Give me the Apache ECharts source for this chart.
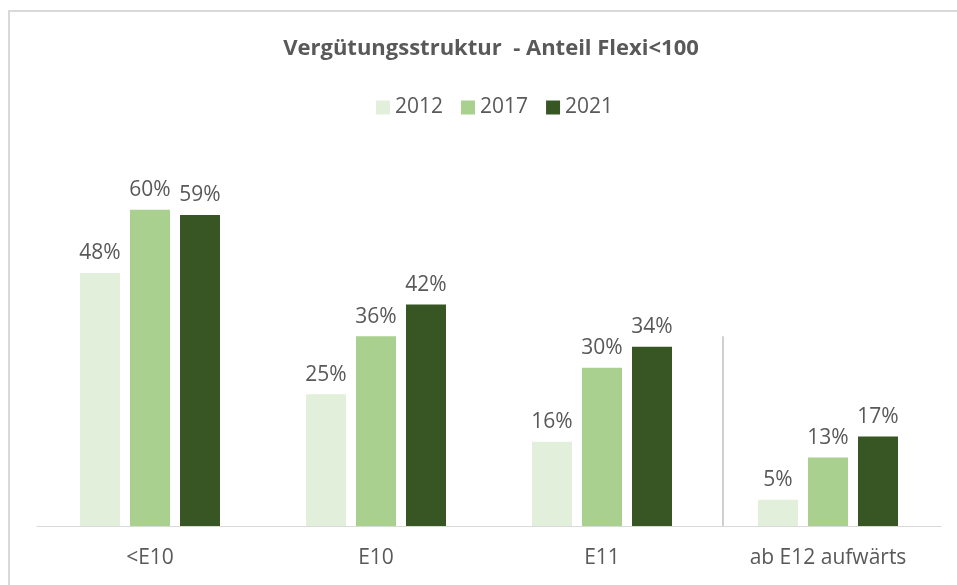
<!DOCTYPE html>
<html>
<head>
<meta charset="utf-8">
<script src="https://cdn.jsdelivr.net/npm/echarts@6/dist/echarts.min.js"></script>
<style>
  html, body { margin: 0; padding: 0; background: #fff; }
  #chart { width: 957px; height: 585px; }
</style>
</head>
<body>
<div id="chart"></div>
<script>
// Daten
const categories = ['<E10', 'E10', 'E11', 'ab E12 aufwärts']
const years = ['2012', '2017', '2021']
const values2012 = [48, 25, 16, 5]
const values2017 = [60, 36, 30, 13]
const values2021 = [59, 42, 34, 17]
const colors = ['#e2efda', '#a9d08e', '#375623']

const font = '"Open Sans", "Liberation Sans", sans-serif'
const textGray = '#595959'

const chart = echarts.init(document.getElementById('chart'))

const makeSeries = (name, data, color) => ({
  name,
  type: 'bar',
  data,
  barWidth: 40,
  barGap: '25%',
  itemStyle: { color },
  label: {
    show: true,
    position: 'top',
    distance: 9,
    formatter: '{c}%',
    color: textGray,
    fontSize: 21,
    fontFamily: font
  }
})

chart.setOption({
  animation: false,
  title: {
    text: 'Vergütungsstruktur  - Anteil Flexi<100',
    left: 486,
    textAlign: 'center',
    top: 33,
    textStyle: { color: textGray, fontSize: 22, fontWeight: 'bold', fontFamily: font }
  },
  legend: {
    data: years,
    top: 92,
    left: 371,
    itemWidth: 14,
    itemHeight: 14,
    itemGap: 18,
    icon: 'rect',
    textStyle: { color: textGray, fontSize: 21, fontFamily: font }
  },
  grid: { left: 37, right: 16, top: 157, bottom: 59 },
  xAxis: {
    type: 'category',
    data: categories,
    axisLine: { lineStyle: { color: '#d9d9d9', width: 1 } },
    axisTick: { show: false },
    axisLabel: { color: textGray, fontSize: 21, fontFamily: font, margin: 22 }
  },
  yAxis: {
    type: 'value',
    min: 0,
    max: 70,
    show: false,
    splitLine: { show: false }
  },
  series: [
    makeSeries('2012', values2012, colors[0]),
    makeSeries('2017', values2017, colors[1]),
    makeSeries('2021', values2021, colors[2])
  ]
})

// Rahmen und Trennlinie zwischen E11 und ab E12
const p2 = chart.convertToPixel({ xAxisIndex: 0 }, 'E11')
const p3 = chart.convertToPixel({ xAxisIndex: 0 }, 'ab E12 aufwärts')
const sepX = Math.round((p2 + p3) / 2) + 8
const yTop = chart.convertToPixel({ yAxisIndex: 0 }, 36)
const yBase = chart.convertToPixel({ yAxisIndex: 0 }, 0)

chart.setOption({
  graphic: [
    {
      type: 'rect',
      shape: { x: 9, y: 11, width: 970, height: 600 },
      style: { fill: 'none', stroke: '#d9d9d9', lineWidth: 2 },
      silent: true
    },
    {
      type: 'line',
      shape: { x1: sepX, y1: yTop, x2: sepX, y2: yBase },
      style: { stroke: '#d0d0d0', lineWidth: 2 },
      silent: true
    }
  ]
})
</script>
</body>
</html>
